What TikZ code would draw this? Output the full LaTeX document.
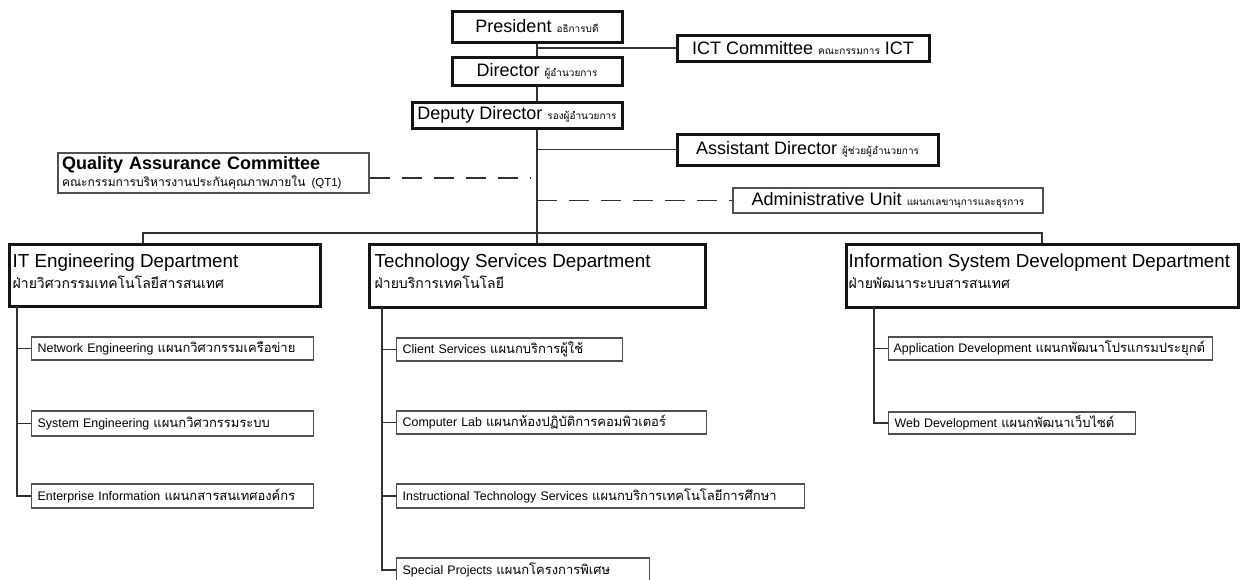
\documentclass[tikz,border=0pt]{standalone}
\usepackage{fontspec}
\setmainfont{Liberation Sans}
\newfontfamily\thaifont[Script=Thai]{Loma}
\usetikzlibrary{positioning,calc}
\definecolor{boxline}{RGB}{20,20,20}
\definecolor{subline}{RGB}{80,80,80}
\definecolor{linkgray}{RGB}{50,50,50}
\newcommand{\thsmall}[1]{{\thaifont\fontsize{10}{12}\selectfont #1}}
\newcommand{\thsub}[1]{{\thaifont\fontsize{13}{15}\selectfont #1}}

\begin{document}
\begin{tikzpicture}[x=1pt, y=-1pt,
    topbox/.style={draw=boxline, line width=3pt, inner sep=2pt, font=\fontsize{18}{20}\selectfont, text centered},
    thinbox/.style={draw=subline, line width=1.4pt, inner sep=2pt, font=\fontsize{18}{20}\selectfont},
    deptbox/.style={draw=boxline, line width=3pt, inner sep=0pt},
    depttitle/.style={inner sep=0pt, anchor=base west, font=\fontsize{18.8}{22}\selectfont},
    deptthai/.style={inner sep=0pt, anchor=base west, font=\thaifont\fontsize{14}{16}\selectfont},
    subbox/.style={draw=subline, line width=1.4pt, inner xsep=6pt, inner ysep=0pt, minimum height=23pt, align=left, anchor=west, font=\fontsize{12.4}{14}\selectfont},
    link/.style={draw=linkgray, line width=1.2pt},
    dashlink/.style={link, dash pattern=on 20pt off 12pt}
]
\useasboundingbox (0,0) rectangle (1243,579);

% top of the chart
\node[topbox, minimum width=170pt, minimum height=31pt] (pres) at (537,26.5) {President \thsmall{อธิการบดี}};
\node[topbox, minimum width=252pt, minimum height=26pt] (ict) at (803,48) {ICT Committee \thsmall{คณะกรรมการ} ICT};
\node[topbox, minimum width=170pt, minimum height=28pt] (dir) at (537,71) {Director \thsmall{ผู้อำนวยการ}};
\node[topbox, minimum width=210pt, minimum height=26pt] (dep) at (517,115) {Deputy Director \thsmall{รองผู้อำนวยการ}};
\node[topbox, minimum width=261pt, minimum height=31pt] (ast) at (807.5,149.5) {Assistant Director \thsmall{ผู้ช่วยผู้อำนวยการ}};
\node[thinbox, text width=303pt, align=left, minimum height=40pt, inner xsep=4pt] (qa) at (213.5,173) {%
    \textbf{Quality Assurance Committee}\\[-3pt]
    {\thaifont\fontsize{12}{14}\selectfont คณะกรรมการบริหารงานประกันคุณภาพภายใน} {\fontsize{11.5}{14}\selectfont (QT1)}};
\node[thinbox, minimum width=310pt, minimum height=25pt] (adm) at (888,200.5) {Administrative Unit \thsmall{แผนกเลขานุการและธุรการ}};

% departments
\node[deptbox, minimum width=311pt, minimum height=62pt] (itd) at (164.5,275) {};
\node[deptbox, minimum width=336pt, minimum height=63pt] (tsd) at (537,275.5) {};
\node[deptbox, minimum width=392pt, minimum height=63pt] (isd) at (1042,275.5) {};
\node[depttitle] (itdt) at ([shift={(5,25)}]itd.north west) {IT Engineering Department};
\node[deptthai] (itdth) at ([shift={(5,46)}]itd.north west) {ฝ่ายวิศวกรรมเทคโนโลยีสารสนเทศ};
\node[depttitle] (tsdt) at ([shift={(7,25)}]tsd.north west) {Technology Services Department};
\node[deptthai] (tsdth) at ([shift={(7,46)}]tsd.north west) {ฝ่ายบริการเทคโนโลยี};
\node[depttitle] (isdt) at ([shift={(4,25)}]isd.north west) {Information System Development Department};
\node[deptthai] (isdth) at ([shift={(4,46)}]isd.north west) {ฝ่ายพัฒนาระบบสารสนเทศ};

% sections
\node[subbox, text width=270pt] (net) at (31,348.5) {Network Engineering \thsub{แผนกวิศวกรรมเครือข่าย}};
\node[subbox, text width=270pt, minimum height=25pt] (sys) at (31,423.5) {System Engineering \thsub{แผนกวิศวกรรมระบบ}};
\node[subbox, text width=270pt, minimum height=24pt] (ent) at (31,496) {Enterprise Information \thsub{แผนกสารสนเทศองค์กร}};
\node[subbox, text width=214pt] (cli) at (396,349.5) {Client Services \thsub{แผนกบริการผู้ใช้}};
\node[subbox, text width=298pt] (lab) at (396,422.5) {Computer Lab \thsub{แผนกห้องปฏิบัติการคอมพิวเตอร์}};
\node[subbox, text width=396pt, minimum height=24pt] (ins) at (396,496) {Instructional Technology Services \thsub{แผนกบริการเทคโนโลยีการศึกษา}};
\node[subbox, text width=241pt, minimum height=24pt] (spe) at (396,570) {Special Projects \thsub{แผนกโครงการพิเศษ}};
\node[subbox, text width=314pt, inner xsep=5pt] (app) at (888,348.5) {Application Development \thsub{แผนกพัฒนาโปรแกรมประยุกต์}};
\node[subbox, text width=235pt, minimum height=22pt] (web) at (888,423) {Web Development \thsub{แผนกพัฒนาเว็บไซต์}};

% lines
\draw[link] (pres) -- (dir);
\draw[link] (dir.south) -- (dir.south |- dep.north);
\draw[link] (dir.south |- dep.south) -- (tsd.north);
\draw[link] (pres.south |- ict) -- (ict.west);
\draw[link] (pres.south |- ast) -- (ast.west);
\coordinate (qaend) at (531,178);
\draw[dashlink] (qa.east |- qaend) -- (qaend);
\draw[dashlink] (pres.south |- adm) -- (adm.west);
\coordinate (barL) at (143,233);
\draw[link] (barL |- itd.north) -- (barL) -- (isd.north |- barL) -- (isd.north);

\coordinate (itspine) at (17,306);
\coordinate (tsspine) at (382,307);
\coordinate (isspine) at (874,307);
\foreach \s in {net,sys,ent} \draw[link] (itspine) |- (\s.west);
\foreach \s in {cli,lab,ins,spe} \draw[link] (tsspine) |- (\s.west);
\foreach \s in {app,web} \draw[link] (isspine) |- (\s.west);

\end{tikzpicture}
\end{document}
